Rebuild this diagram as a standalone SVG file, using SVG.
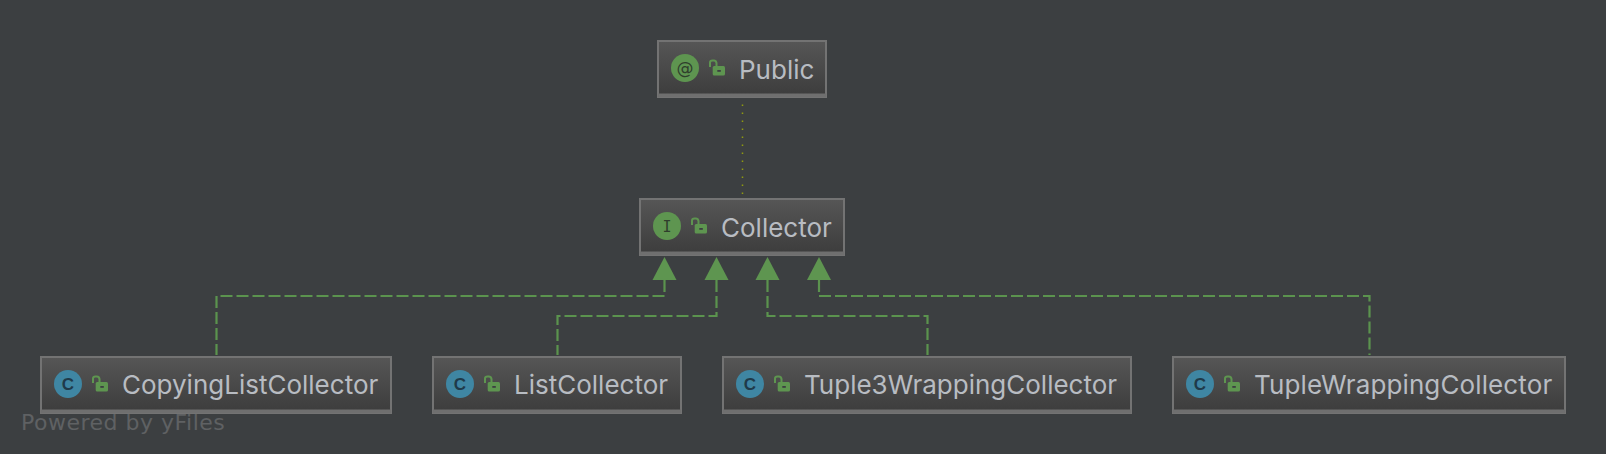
<svg xmlns="http://www.w3.org/2000/svg" width="1606" height="454" viewBox="0 0 1606 454">
<style>
.box{fill:url(#g);stroke:#737373;stroke-width:2}
.band{fill:#6f6f6f}
.t{font-family:"Inter","Liberation Sans",sans-serif;font-size:26px;fill:#b8bcc2}
.l{font-family:"Liberation Sans",sans-serif;font-size:17px;font-weight:bold;text-anchor:middle}
.e{fill:none;stroke:#5b934e;stroke-width:2.200;stroke-dasharray:12 4}
.h{fill:#5e9550}
.lk{fill:none;stroke:#5e9550;stroke-width:2}
</style>
<defs>
<linearGradient id="g" x1="0" y1="0" x2="0" y2="1"><stop offset="0" stop-color="#565656"/><stop offset="1" stop-color="#3c3c3c"/></linearGradient>
<g id="lock"><path class="lk" d="M1 7V2.500Q1 0.500 3.500 0.500H5Q7 0.500 7.500 3L7.500 6"/><rect class="h" x="3.700" y="6" width="12.300" height="9.500" rx="1.500"/><rect x="8.300" y="10" width="3.500" height="1.800" fill="#3c3f41"/></g>
</defs>
<rect width="1606" height="454" fill="#3c3f41"/>
<g id="connectors">
<path d="M742.500 104.500V196" fill="none" stroke="#8f9a10" stroke-width="1.500" stroke-dasharray="1.500 6.500"/>
<path class="e" d="M664.500 280V296H216.500V355"/>
<path class="e" d="M716.500 280V316H557.500V355"/>
<path class="e" d="M767.500 280V316H927.500V355"/>
<path class="e" d="M819 280V296H1369.500V355"/>
<polygon class="h" points="664.500,257 676.500,280 652.500,280"/>
<polygon class="h" points="716.500,257 728.500,280 704.500,280"/>
<polygon class="h" points="767.500,257 779.500,280 755.500,280"/>
<polygon class="h" points="819,257 831,280 807,280"/>
</g>
<g id="node-public"><rect class="box" x="658" y="41" width="168" height="56"/><rect class="band" x="658" y="93.500" width="168" height="3.500"/><circle cx="685" cy="68" r="14" fill="#5e9550"/><text x="685" y="74" fill="#2f3e2c" font-family="DejaVu Sans,sans-serif" font-size="17" text-anchor="middle">@</text><use href="#lock" x="709" y="60"/><text class="t" x="739" y="78.500">Public</text></g>
<g id="node-collector"><rect class="box" x="640" y="199" width="204" height="56"/><rect class="band" x="640" y="251.500" width="204" height="3.500"/><circle cx="667" cy="226" r="14" fill="#5e9550"/><text x="667" y="232" fill="#2f3e2c" font-family="DejaVu Sans Mono,monospace" font-size="15" text-anchor="middle">I</text><use href="#lock" x="691" y="218"/><text class="t" x="721" y="236.500">Collector</text></g>
<g id="node-copying"><rect class="box" x="41" y="357" width="350" height="56"/><rect class="band" x="41" y="409.500" width="350" height="3.500"/><circle cx="68" cy="384" r="14" fill="#3f86a3"/><text class="l" x="68" y="390" fill="#1f3a4a">C</text><use href="#lock" x="92" y="376"/><text class="t" x="122" y="394">CopyingListCollector</text></g>
<g id="node-list"><rect class="box" x="433" y="357" width="248" height="56"/><rect class="band" x="433" y="409.500" width="248" height="3.500"/><circle cx="460" cy="384" r="14" fill="#3f86a3"/><text class="l" x="460" y="390" fill="#1f3a4a">C</text><use href="#lock" x="484" y="376"/><text class="t" x="514" y="394">ListCollector</text></g>
<g id="node-tuple3"><rect class="box" x="723" y="357" width="408" height="56"/><rect class="band" x="723" y="409.500" width="408" height="3.500"/><circle cx="750" cy="384" r="14" fill="#3f86a3"/><text class="l" x="750" y="390" fill="#1f3a4a">C</text><use href="#lock" x="774" y="376"/><text class="t" x="804" y="394">Tuple3WrappingCollector</text></g>
<g id="node-tuple"><rect class="box" x="1173" y="357" width="392" height="56"/><rect class="band" x="1173" y="409.500" width="392" height="3.500"/><circle cx="1200" cy="384" r="14" fill="#3f86a3"/><text class="l" x="1200" y="390" fill="#1f3a4a">C</text><use href="#lock" x="1224" y="376"/><text class="t" x="1254" y="394" letter-spacing="0.120">TupleWrappingCollector</text></g>
<text x="21" y="430" font-family="DejaVu Sans,sans-serif" font-size="22" letter-spacing="0.500" fill="#5f6163">Powered by yFiles</text>
</svg>
